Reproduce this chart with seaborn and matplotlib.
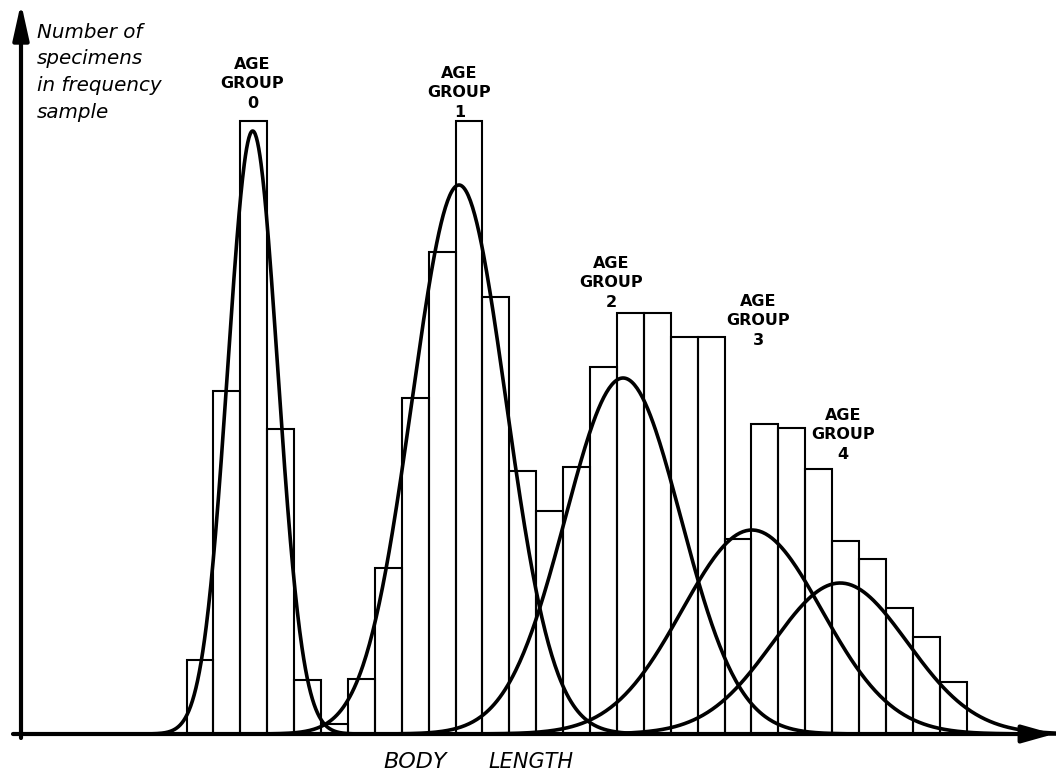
import numpy as np
import pandas as pd
import seaborn as sns
import matplotlib
matplotlib.use("Agg")
import matplotlib.pyplot as plt

# ---------------- data ----------------
# length classes (bin index) and number of specimens in each class
bin_index = list(range(29))
counts = [7.4, 34.3, 61.3, 30.5, 5.4, 1.0, 5.5, 16.6, 33.6, 48.2,
          61.3, 43.7, 26.3, 22.3, 26.7, 36.7, 42.1, 42.1, 39.7, 39.7,
          19.5, 31.0, 30.6, 26.5, 19.3, 17.5, 12.6, 9.7, 5.2]

# fitted normal components for each age group
age_groups = ["0", "1", "2", "3", "4"]
comp_mean = [2.46, 10.13, 16.23, 21.02, 24.30]
comp_sd = [0.93, 1.75, 2.15, 2.6, 2.5]
comp_peak = [60.3, 54.9, 35.6, 20.4, 15.1]

# label anchor positions (bin units / count units, bottom of label)
label_x = [2.45, 10.15, 15.8, 21.25, 24.4]
label_y = [62.3, 61.4, 42.4, 38.6, 27.2]

# ---------------- figure ----------------
W, H, DPI = 1056, 774, 100
sns.set_theme(style="white")
plt.rcParams["font.family"] = ["DejaVu Sans"]

fig = plt.figure(figsize=(W / DPI, H / DPI), dpi=DPI)
ax = fig.add_axes([0, 0, 1, 1])
ax.set_facecolor("white")

# pixel <-> data mapping
X0, BW = 186.5, 26.9          # pixel x of bin edge 0, pixel width of one bin
Y0, YS = 734.0, 10.0          # pixel y of baseline, pixels per count unit

def px2x(px):
    return (px - X0) / BW

def py2y(py):
    return (Y0 - py) / YS

# histogram bars (outlined, unfilled)
df = pd.DataFrame({"center": np.array(bin_index, dtype=float) + 0.5,
                   "n": np.array(counts, dtype=float)})
sns.histplot(data=df, x="center", weights="n", bins=29, binrange=(0, 29),
             fill=False, element="bars", color="black", linewidth=1.5,
             ax=ax)

# normal curves of each age group
for i, g in enumerate(age_groups):
    m, s, p = comp_mean[i], comp_sd[i], comp_peak[i]
    xs = np.linspace(m - 4.6 * s, m + 4.6 * s, 400)
    ys = p * np.exp(-0.5 * ((xs - m) / s) ** 2)
    sns.lineplot(x=xs, y=ys, color="black", linewidth=2.6, ax=ax,
                 sort=False, estimator=None)
    ax.text(label_x[i], label_y[i], "AGE\nGROUP\n" + g, ha="center",
            va="bottom", fontsize=11.5, fontweight="bold", linespacing=1.38,
            color="black", zorder=4)

ax.set_xlim((0 - X0) / BW, (W - X0) / BW)
ax.set_ylim((Y0 - H) / YS, Y0 / YS)
ax.set_axis_off()

# axes drawn as arrows
ax.annotate("", xy=(px2x(1054), 0), xytext=(px2x(13), 0),
            arrowprops=dict(arrowstyle="-|>,head_length=1.6,head_width=0.45",
                            color="black", lw=3.0, shrinkA=0, shrinkB=0),
            zorder=5)
ax.annotate("", xy=(px2x(21), py2y(3)), xytext=(px2x(21), py2y(738)),
            arrowprops=dict(arrowstyle="-|>,head_length=1.8,head_width=0.4",
                            color="black", lw=3.0, shrinkA=0, shrinkB=0),
            zorder=5)

# axis titles
ax.text(px2x(37), py2y(23), "Number of\nspecimens\nin frequency\nsample",
        ha="left", va="top", fontsize=14.3, fontstyle="italic",
        linespacing=1.5, color="black")
ax.text(px2x(383), py2y(762), "BODY", ha="left", va="center",
        fontsize=16, fontstyle="italic", color="black")
ax.text(px2x(488), py2y(762), "LENGTH", ha="left", va="center",
        fontsize=15, fontstyle="italic", color="black")

fig.savefig("out.png", dpi=DPI, facecolor="white")
